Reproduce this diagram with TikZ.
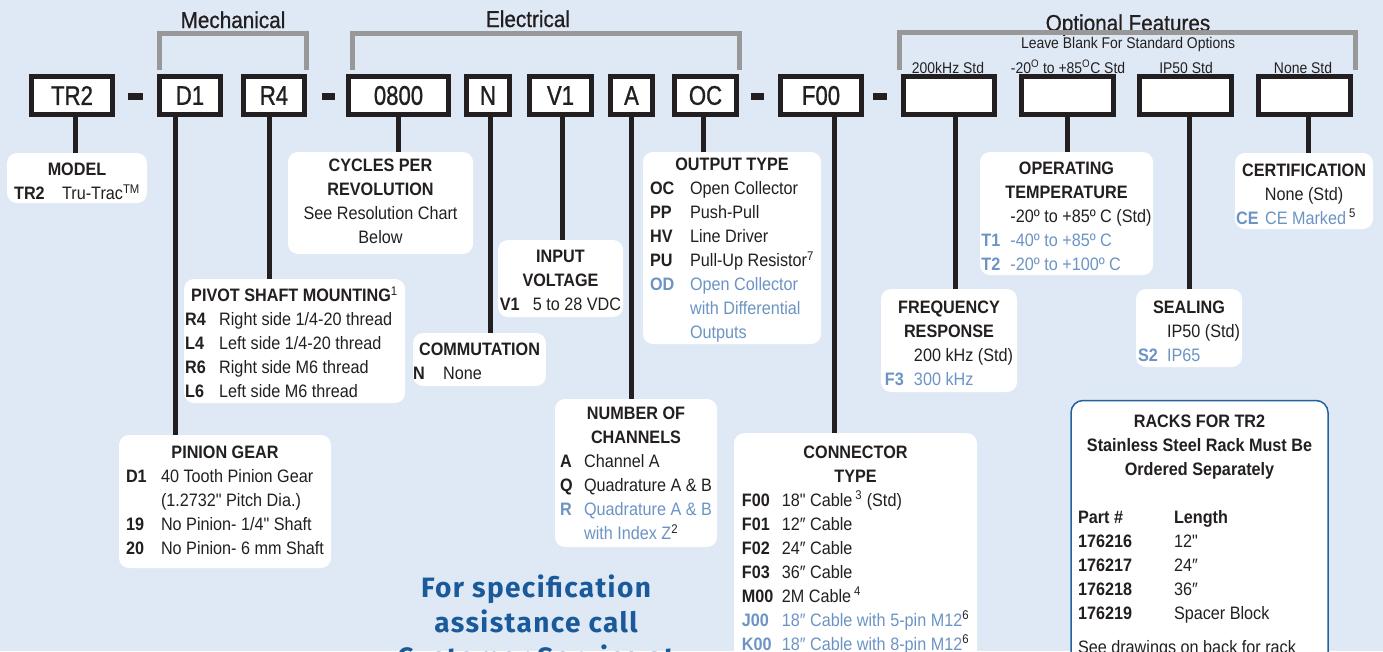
\documentclass[tikz,border=0pt]{standalone}
\usepackage{fontspec}
\setmainfont{Liberation Sans}[FakeStretch=0.9, Ligatures=TeXOff]
\newfontfamily\boxfont{Liberation Sans}[FakeStretch=0.82, FakeBold=1]
\newfontfamily\groupfont{Liberation Sans}[FakeStretch=0.9, FakeBold=0.8]
\newfontfamily\callfont{Fira Sans}[LetterSpace=5]
\usepackage{xcolor}

\definecolor{bgblue}{RGB}{223,233,245}
\definecolor{inkdark}{RGB}{35,31,32}
\definecolor{optblue}{RGB}{107,148,197}
\definecolor{callblue}{RGB}{26,90,155}
\definecolor{rackblue}{RGB}{38,96,155}
\definecolor{brackgray}{RGB}{152,152,152}

% content of an option box: lowered a little, code column of fixed width
\newcommand{\opttab}[3]{\raisebox{-#1}[\height][\depth]{\begin{tabular}{@{}p{#2}@{}l@{}}#3\end{tabular}}}

\begin{document}
\begin{tikzpicture}[x=1pt, y=-1pt,
    codebox/.style={draw=inkdark, line width=5pt, fill=white, inner sep=0pt,
      minimum height=38pt, text=inkdark, font=\boxfont\fontsize{27}{30}\selectfont},
    infobox/.style={fill=white, rounded corners=10pt, inner sep=0pt, text=inkdark,
      font=\fontsize{18}{24}\selectfont},
    lead/.style={draw=inkdark, line width=5pt},
    bracket/.style={draw=brackgray, line width=5pt},
    grouplabel/.style={inner sep=0pt, text=inkdark, font=\groupfont\fontsize{23}{26}\selectfont},
    stdlabel/.style={inner sep=0pt, text=inkdark, font=\fontsize{15.5}{18}\selectfont},
  ]

  \fill[bgblue] (0,0) rectangle (1383,651);
  \useasboundingbox (0,0) rectangle (1383,651);
  \clip (0,0) rectangle (1383,651);

  % group titles and brackets
  \node[grouplabel, anchor=base] (mechlbl) at (233,28) {Mechanical};
  \node[grouplabel, anchor=base] (eleclbl) at (528,27) {Electrical};
  \node[grouplabel, anchor=base] (optlbl)  at (1128,31) {Optional Features};
  \node[stdlabel, anchor=base] (blanklbl) at (1128,48) {Leave Blank For Standard Options};

  \draw[bracket] (159,70) |- (306,33) -- (306,70);
  \draw[bracket] (352,70) |- (739,33) -- (739,70);
  \draw[bracket] (899,70) |- (1355,32) -- (1355,70);

  \node[stdlabel, anchor=base] (stda) at (948,73)  {200kHz Std};
  \node[stdlabel, anchor=base] (stdb) at (1068,73) {-20\textsuperscript{O} to +85\textsuperscript{O}C Std};
  \node[stdlabel, anchor=base] (stdc) at (1186,73) {IP50 Std};
  \node[stdlabel, anchor=base] (stdd) at (1303,73) {None Std};

  % part number boxes
  \node[codebox, minimum width=81pt]  (tr2)  at (72,95.5)     {TR2};
  \node[codebox, minimum width=61pt]  (d1)   at (190,95.5)    {D1};
  \node[codebox, minimum width=61pt]  (r4)   at (274,95.5)    {R4};
  \node[codebox, minimum width=100pt] (cpr)  at (398.5,95.5)  {0800};
  \node[codebox, minimum width=43pt]  (n)    at (488,95.5)    {N};
  \node[codebox, minimum width=62pt]  (v1)   at (560.5,95.5)  {V1};
  \node[codebox, minimum width=42pt]  (a)    at (631.5,95.5)  {A};
  \node[codebox, minimum width=62pt]  (oc)   at (705.5,95.5)  {OC};
  \node[codebox, minimum width=81pt]  (f00)  at (821,95.5)    {F00};
  \node[codebox, minimum width=91pt]  (opta) at (949,95.5)    {};
  \node[codebox, minimum width=92pt]  (optb) at (1067.5,95.5) {};
  \node[codebox, minimum width=92pt]  (optc) at (1185.5,95.5) {};
  \node[codebox, minimum width=92pt]  (optd) at (1304.5,95.5) {};

  % dashes
  \fill[inkdark] (128,93) rectangle (143,100);
  \fill[inkdark] (322,93) rectangle (335,100);
  \fill[inkdark] (751,93) rectangle (764,100);
  \fill[inkdark] (873,93) rectangle (887,100);

  % option boxes
  \node[infobox, minimum width=140pt, minimum height=50pt] (model) at (77,178)
    {\opttab{4.5pt}{48pt}{\multicolumn{2}{c}{\textbf{MODEL}}\\
      \textbf{TR2} & Tru-Trac\textsuperscript{TM}}};

  \node[infobox, minimum width=185pt, minimum height=102pt] (cycles) at (380.5,203)
    {\begin{tabular}{@{}c@{}}\textbf{CYCLES PER}\\ \textbf{REVOLUTION}\\
      See Resolution Chart\\ Below\end{tabular}};

  \node[infobox, minimum width=221pt, minimum height=124pt] (pivot) at (294.5,341)
    {\opttab{4pt}{34pt}{\multicolumn{2}{c}{\textbf{PIVOT SHAFT MOUNTING}\textsuperscript{1}}\\
      \textbf{R4} & Right side 1/4-20 thread\\
      \textbf{L4} & Left side 1/4-20 thread\\
      \textbf{R6} & Right side M6 thread\\
      \textbf{L6} & Left side M6 thread}};

  \node[infobox, minimum width=212pt, minimum height=133pt] (pinion) at (225,501.5)
    {\opttab{0pt}{35pt}{\multicolumn{2}{c}{\textbf{PINION GEAR}}\\
      \textbf{D1} & 40 Tooth Pinion Gear\\
       & (1.2732" Pitch Dia.)\\
      \textbf{19} & No Pinion- 1/4" Shaft\\
      \textbf{20} & No Pinion- 6 mm Shaft}};

  \node[infobox, minimum width=131pt, minimum height=53pt] (commut) at (479.5,359.5)
    {\opttab{3pt}{30pt}{\multicolumn{2}{c}{\textbf{COMMUTATION}}\\
      \textbf{N} & None}};

  \node[infobox, minimum width=125pt, minimum height=77pt] (voltage) at (560.5,278.5)
    {\opttab{2.7pt}{33pt}{\multicolumn{2}{c}{\textbf{INPUT}}\\
      \multicolumn{2}{c}{\textbf{VOLTAGE}}\\
      \textbf{V1} & 5 to 28 VDC}};

  \node[infobox, minimum width=178pt, minimum height=192pt] (output) at (732,248)
    {\opttab{2pt}{40pt}{\multicolumn{2}{c}{\textbf{OUTPUT TYPE}}\\
      \textbf{OC} & Open Collector\\
      \textbf{PP} & Push-Pull\\
      \textbf{HV} & Line Driver\\
      \textbf{PU} & Pull-Up Resistor\textsuperscript{7}\\
      \textcolor{optblue}{\textbf{OD}} & \textcolor{optblue}{Open Collector}\\
       & \textcolor{optblue}{with Differential}\\
       & \textcolor{optblue}{Outputs}}};

  \node[infobox, minimum width=162pt, minimum height=148pt] (channels) at (636,473)
    {\opttab{1.7pt}{24pt}{\multicolumn{2}{c}{\textbf{NUMBER OF}}\\
      \multicolumn{2}{c}{\textbf{CHANNELS}}\\
      \textbf{A} & Channel A\\
      \textbf{Q} & Quadrature A \& B\\
      \textcolor{optblue}{\textbf{R}} & \textcolor{optblue}{Quadrature A \& B}\\
       & \textcolor{optblue}{with Index Z}\textsuperscript{2}}};

  \node[infobox, minimum width=243pt, inner ysep=8pt, anchor=north] (conn) at (855.5,433)
    {\opttab{0pt}{40pt}{\multicolumn{2}{c}{\textbf{CONNECTOR}}\\
      \multicolumn{2}{c}{\textbf{TYPE}}\\
      \textbf{F00} & 18" Cable\,\textsuperscript{3} (Std)\\
      \textbf{F01} & 12″ Cable\\
      \textbf{F02} & 24″ Cable\\
      \textbf{F03} & 36″ Cable\\
      \textbf{M00} & 2M Cable\,\textsuperscript{4}\\
      \textcolor{optblue}{\textbf{J00}} & \textcolor{optblue}{18″ Cable with 5-pin M12}\textsuperscript{6}\\
      \textcolor{optblue}{\textbf{K00}} & \textcolor{optblue}{18″ Cable with 8-pin M12}\textsuperscript{6}}};

  \node[infobox, minimum width=136pt, minimum height=103pt] (freq) at (949,340.5)
    {\opttab{3.7pt}{29pt}{\multicolumn{2}{c}{\textbf{FREQUENCY}}\\
      \multicolumn{2}{c}{\textbf{RESPONSE}}\\
       & 200 kHz (Std)\\
      \textcolor{optblue}{\textbf{F3}} & \textcolor{optblue}{300 kHz}}};

  \node[infobox, minimum width=173pt, minimum height=123pt] (optemp) at (1066.5,213.5)
    {\opttab{3.7pt}{29pt}{\multicolumn{2}{c}{\textbf{OPERATING}}\\
      \multicolumn{2}{c}{\textbf{TEMPERATURE}}\\
       & -20º to +85º C (Std)\\
      \textcolor{optblue}{\textbf{T1}} & \textcolor{optblue}{-40º to +85º C}\\
      \textcolor{optblue}{\textbf{T2}} & \textcolor{optblue}{-20º to +100º C}}};

  \node[infobox, minimum width=106pt, minimum height=78pt] (sealing) at (1189,328)
    {\opttab{5pt}{29pt}{\multicolumn{2}{c}{\textbf{SEALING}}\\
       & IP50 (Std)\\
      \textcolor{optblue}{\textbf{S2}} & \textcolor{optblue}{IP65}}};

  \node[infobox, minimum width=138pt, minimum height=76pt] (cert) at (1304,191)
    {\opttab{4.2pt}{29pt}{\multicolumn{2}{c}{\textbf{CERTIFICATION}}\\
      \multicolumn{2}{c}{None (Std)}\\
      \textcolor{optblue}{\textbf{CE}} & \textcolor{optblue}{CE Marked}\,\textsuperscript{5}}};

  \node[infobox, draw=rackblue, line width=1.5pt, rounded corners=12pt, inner xsep=7pt,
        inner ysep=10pt, anchor=north] (racks) at (1199.5,399.75)
    {\begin{tabular}{@{}p{96pt}@{}p{147pt}@{}}
      \multicolumn{2}{c}{\textbf{RACKS FOR TR2}}\\
      \multicolumn{2}{c}{\textbf{Stainless Steel Rack Must Be}}\\
      \multicolumn{2}{c}{\textbf{Ordered Separately}}\\[24pt]
      \textbf{Part \#} & \textbf{Length}\\
      \textbf{176216} & 12"\\
      \textbf{176217} & 24″\\
      \textbf{176218} & 36″\\
      \textbf{176219} & Spacer Block\\[10pt]
      \multicolumn{2}{@{}l}{See drawings on back for rack}
    \end{tabular}};

  \node[inner sep=0pt, text=callblue, align=center, anchor=north,
        font=\callfont\bfseries\fontsize{28}{35}\selectfont] (call) at (536,575)
    {For specification\\assistance call\\Customer Service at};

  % leads from part number boxes down to the option boxes
  \draw[lead] ([xshift=3pt]tr2.south)    -- ([xshift=3pt]tr2.south |- model.north);
  \draw[lead] ([xshift=-15pt]d1.south)   -- ([xshift=-15pt]d1.south |- pinion.north);
  \draw[lead] ([xshift=-5pt]r4.south)    -- ([xshift=-5pt]r4.south |- pivot.north);
  \draw[lead] (cpr.south)                -- (cpr.south |- cycles.north);
  \draw[lead] ([xshift=2pt]n.south)      -- ([xshift=2pt]n.south |- commut.north);
  \draw[lead] ([xshift=1.5pt]v1.south)   -- ([xshift=1.5pt]v1.south |- voltage.north);
  \draw[lead] (a.south)                  -- (a.south |- channels.north);
  \draw[lead] ([xshift=-2.5pt]oc.south)  -- ([xshift=-2.5pt]oc.south |- output.north);
  \draw[lead] ([xshift=13pt]f00.south)   -- ([xshift=13pt]f00.south |- conn.north);
  \draw[lead] ([xshift=6pt]opta.south)   -- ([xshift=6pt]opta.south |- freq.north);
  \draw[lead] (optb.south)               -- (optb.south |- optemp.north);
  \draw[lead] ([xshift=3.5pt]optc.south) -- ([xshift=3.5pt]optc.south |- sealing.north);
  \draw[lead] ([xshift=3.5pt]optd.south) -- ([xshift=3.5pt]optd.south |- cert.north);

\end{tikzpicture}
\end{document}
